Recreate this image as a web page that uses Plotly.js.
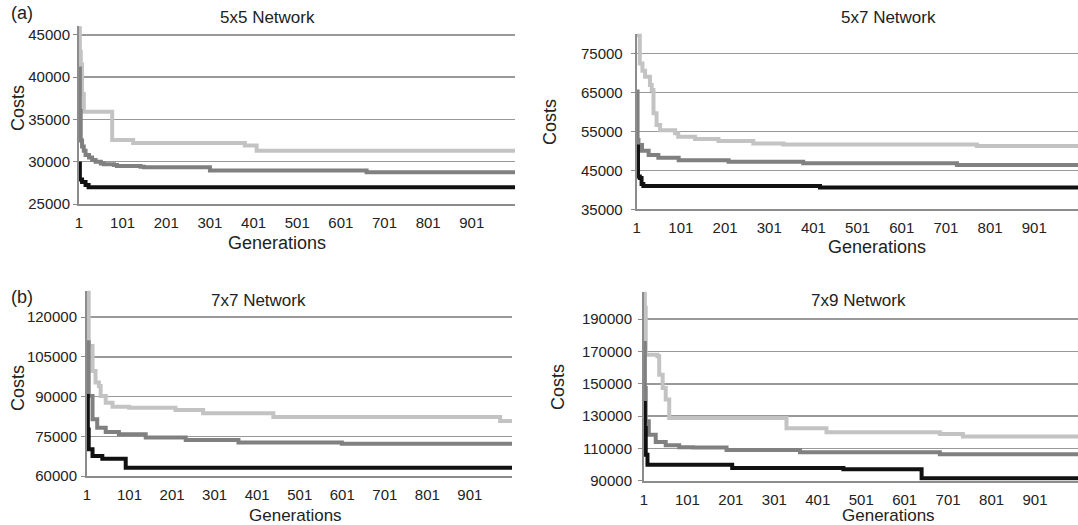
<!DOCTYPE html>
<html>
<head>
<meta charset="utf-8">
<script src="https://cdn.plot.ly/plotly-3.0.1.min.js"></script>
<style>html,body{margin:0;padding:0;background:#fff}#chart{width:1078px;height:525px}</style>
</head>
<body>
<div id="chart"></div>
<script>
// ---- Data ----
var xTickVals = [1, 101, 201, 301, 401, 501, 601, 701, 801, 901];
var xTickText = ["1", "101", "201", "301", "401", "501", "601", "701", "801", "901"];

// 5x5 network
var g55Light = [1, 3, 5, 8, 12, 77, 125, 381, 408, 1000];
var c55Light = [46000, 43000, 41500, 38000, 35900, 32550, 32200, 31900, 31300, 31300];
var g55Mid = [1, 3, 5, 8, 12, 16, 24, 31, 39, 51, 58, 81, 88, 142, 150, 301, 660, 1000];
var c55Mid = [41000, 36000, 32500, 31800, 31300, 30800, 30500, 30200, 30000, 29800, 29700, 29600, 29500, 29400, 29350, 28950, 28750, 28750];
var g55Dark = [1, 3, 8, 16, 23, 1000];
var c55Dark = [29800, 27900, 27600, 27250, 26970, 26970];

// 5x7 network
var g57Light = [1, 8, 14, 20, 31, 35, 39, 46, 54, 88, 95, 133, 186, 265, 333, 771, 1000];
var c57Light = [79700, 72400, 70500, 69000, 66900, 65600, 59600, 56600, 55300, 54500, 53600, 53000, 52500, 51900, 51600, 51200, 51200];
var g57Mid = [1, 3, 5, 13, 28, 50, 96, 209, 378, 726, 1000];
var c57Mid = [65200, 52800, 51500, 50000, 48900, 48200, 47600, 47200, 46800, 46350, 46350];
var g57Dark = [1, 4, 8, 12, 16, 416, 1000];
var c57Dark = [51100, 43400, 43000, 41500, 41000, 40600, 40600];

// 7x7 network
var g77Light = [1, 5, 14, 21, 29, 33, 45, 61, 100, 209, 274, 439, 972, 1000];
var c77Light = [130000, 109100, 99700, 95300, 94000, 90200, 87700, 86200, 85800, 84900, 83700, 82300, 80800, 80800];
var g77Mid = [1, 5, 14, 25, 45, 76, 139, 233, 357, 600, 1000];
var c77Mid = [110500, 90200, 81400, 78200, 76600, 75800, 74500, 73600, 72700, 72200, 72200];
var g77Dark = [1, 3, 5, 14, 37, 92, 1000];
var c77Dark = [90200, 77600, 70100, 67600, 66500, 63100, 63100];

// 7x9 network
var g79Light = [1, 3, 5, 32, 36, 44, 51, 59, 329, 421, 682, 735, 1000];
var c79Light = [207000, 197000, 168000, 167000, 155600, 147400, 140200, 128800, 122400, 120000, 118900, 117300, 117300];
var g79Mid = [1, 3, 5, 12, 28, 51, 82, 114, 191, 360, 682, 1000];
var c79Mid = [175300, 147400, 126800, 118500, 114000, 111900, 110700, 110500, 109000, 107600, 106300, 106300];
var g79Dark = [1, 3, 5, 9, 204, 460, 640, 1000];
var c79Dark = [138100, 122600, 106100, 99900, 97900, 97100, 91500, 91500];

// ---- Styling ----
var W = 1078, H = 525;
function fx(p) { return p / W; }
function fy(p) { return 1 - p / H; }
var colLight = "#c3c3c3", colMid = "#808080", colDark = "#111111";
var lw = 4;
var fontFam = "Liberation Sans, Arial, sans-serif";

function tr(x, y, color, xa, ya) {
  return { x: x, y: y, type: "scatter", mode: "lines", line: { color: color, width: lw, shape: "hv" },
    xaxis: xa, yaxis: ya, hoverinfo: "skip", showlegend: false };
}

var data = [
  tr(g55Light, c55Light, colLight, "x", "y"),
  tr(g55Mid, c55Mid, colMid, "x", "y"),
  tr(g55Dark, c55Dark, colDark, "x", "y"),
  tr(g57Light, c57Light, colLight, "x2", "y2"),
  tr(g57Mid, c57Mid, colMid, "x2", "y2"),
  tr(g57Dark, c57Dark, colDark, "x2", "y2"),
  tr(g77Light, c77Light, colLight, "x3", "y3"),
  tr(g77Mid, c77Mid, colMid, "x3", "y3"),
  tr(g77Dark, c77Dark, colDark, "x3", "y3"),
  tr(g79Light, c79Light, colLight, "x4", "y4"),
  tr(g79Mid, c79Mid, colMid, "x4", "y4"),
  tr(g79Dark, c79Dark, colDark, "x4", "y4")
];

function xAxis(x0, x1, anchor) {
  return { domain: [fx(x0), fx(x1)], anchor: anchor, range: [1, 1000], tickmode: "array",
    tickvals: xTickVals, ticktext: xTickText, showgrid: false, zeroline: false,
    showline: true, linecolor: "#8c8c8c", linewidth: 2, ticks: "", ticklabelstandoff: 4,
    tickfont: { size: 15, color: "#222", family: fontFam }, fixedrange: true };
}
function yAxis(ytop, ybot, range, dtick, anchor, standoff) {
  return { domain: [fy(ybot), fy(ytop)], anchor: anchor, range: range, tick0: range[0], dtick: dtick,
    showgrid: true, gridcolor: "#999999", gridwidth: 1.5, zeroline: false,
    showline: true, linecolor: "#8c8c8c", linewidth: 2, ticks: "outside", ticklen: 4, tickcolor: "#8c8c8c",
    ticklabelstandoff: standoff, tickformat: "d",
    tickfont: { size: 15, color: "#222", family: fontFam }, fixedrange: true };
}

function ann(text, xp, yp, size, angle) {
  return { text: text, x: fx(xp), y: fy(yp), xref: "paper", yref: "paper", showarrow: false,
    xanchor: "center", yanchor: "middle", textangle: angle || 0,
    font: { size: size, color: "#222", family: fontFam } };
}

var layout = {
  width: W, height: H, margin: { l: 0, r: 0, t: 0, b: 0 },
  paper_bgcolor: "#fff", plot_bgcolor: "#fff", showlegend: false,
  xaxis: xAxis(79, 515, "y"),
  yaxis: yAxis(26.3, 204, [25000, 46000], 5000, "x", 0),
  xaxis2: xAxis(636.7, 1078, "y2"),
  yaxis2: yAxis(33.8, 209.3, [35000, 80000], 10000, "x2", 5),
  xaxis3: xAxis(87, 512, "y3"),
  yaxis3: yAxis(290.7, 476, [60000, 130000], 15000, "x3", 1),
  xaxis4: xAxis(644, 1078, "y4"),
  yaxis4: yAxis(291.7, 480.7, [90000, 207000], 20000, "x4", 3),
  annotations: [
    ann("5x5 Network", 267, 18, 17),
    ann("5x7 Network", 888, 18, 17),
    ann("7x7 Network", 258, 300, 17),
    ann("7x9 Network", 858, 300, 17),
    ann("(a)", 22, 13, 18),
    ann("(b)", 22, 297, 18),
    ann("Costs", 18, 108, 18, -90),
    ann("Costs", 550, 122, 18, -90),
    ann("Costs", 18, 388, 18, -90),
    ann("Costs", 558, 387, 18, -90),
    ann("Generations", 277, 243, 18),
    ann("Generations", 877, 247, 18),
    ann("Generations", 295, 515, 17),
    ann("Generations", 888, 515, 17)
  ]
};

Plotly.newPlot("chart", data, layout, { staticPlot: true, displayModeBar: false });
</script>
</body>
</html>
